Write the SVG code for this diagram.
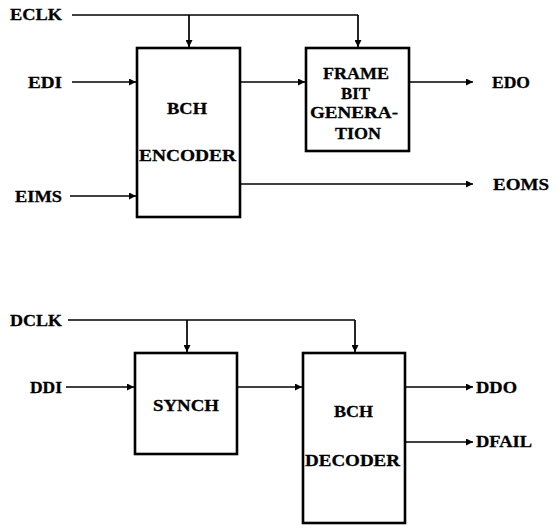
<svg xmlns="http://www.w3.org/2000/svg" width="559" height="530" viewBox="0 0 559 530">
<defs>
<marker id="arr" viewBox="0 0 10 10" refX="10" refY="5" markerWidth="9" markerHeight="7" markerUnits="userSpaceOnUse" orient="auto">
<path d="M0,0 L10,5 L0,10 Z" fill="#000"/>
</marker>
<style>
.box{fill:#fff;stroke:#000;stroke-width:2.6}
.ln{fill:none;stroke:#000;stroke-width:1.7}
.t{font-family:"Liberation Serif","Times New Roman",serif;font-weight:bold;font-size:16.5px;fill:#000;stroke:#000;stroke-width:0.3}
</style>
</defs>
<rect width="559" height="530" fill="#fff"/>
<g id="connectors">
<path class="ln" d="M72,15 H358"/>
<path class="ln" d="M189,15 V47" marker-end="url(#arr)"/>
<path class="ln" d="M358,15 V47" marker-end="url(#arr)"/>
<path class="ln" d="M72,82 H136" marker-end="url(#arr)"/>
<path class="ln" d="M70,196 H136" marker-end="url(#arr)"/>
<path class="ln" d="M240,82 H305" marker-end="url(#arr)"/>
<path class="ln" d="M409,82 H473" marker-end="url(#arr)"/>
<path class="ln" d="M240,184 H473" marker-end="url(#arr)"/>
<path class="ln" d="M68,320 H355"/>
<path class="ln" d="M187,320 V352" marker-end="url(#arr)"/>
<path class="ln" d="M355,320 V352" marker-end="url(#arr)"/>
<path class="ln" d="M66,387 H134" marker-end="url(#arr)"/>
<path class="ln" d="M237,387 H302" marker-end="url(#arr)"/>
<path class="ln" d="M405,387 H473" marker-end="url(#arr)"/>
<path class="ln" d="M405,442 H473" marker-end="url(#arr)"/>
</g>
<g id="labels">
<text class="t" x="10" y="20" textLength="52" lengthAdjust="spacingAndGlyphs">ECLK</text>
<text class="t" x="28" y="88" textLength="34" lengthAdjust="spacingAndGlyphs">EDI</text>
<text class="t" x="15" y="202" textLength="47" lengthAdjust="spacingAndGlyphs">EIMS</text>
<text class="t" x="492" y="88" textLength="38" lengthAdjust="spacingAndGlyphs">EDO</text>
<text class="t" x="493" y="190" textLength="56" lengthAdjust="spacingAndGlyphs">EOMS</text>
<text class="t" x="10" y="326" textLength="52" lengthAdjust="spacingAndGlyphs">DCLK</text>
<text class="t" x="30" y="393" textLength="32" lengthAdjust="spacingAndGlyphs">DDI</text>
<text class="t" x="476" y="393" textLength="41" lengthAdjust="spacingAndGlyphs">DDO</text>
<text class="t" x="476" y="447" textLength="56" lengthAdjust="spacingAndGlyphs">DFAIL</text>
</g>
<g id="encoder">
<rect class="box" x="137" y="48" width="103" height="169"/>
<text class="t" x="167" y="114" textLength="40" lengthAdjust="spacingAndGlyphs">BCH</text>
<text class="t" x="139" y="161" textLength="97" lengthAdjust="spacingAndGlyphs">ENCODER</text>
</g>
<g id="frame">
<rect class="box" x="306" y="48" width="103" height="103"/>
<text class="t" x="323" y="79" textLength="66" lengthAdjust="spacingAndGlyphs">FRAME</text>
<text class="t" x="341" y="99" textLength="29" lengthAdjust="spacingAndGlyphs">BIT</text>
<text class="t" x="310" y="118" textLength="88" lengthAdjust="spacingAndGlyphs">GENERA-</text>
<text class="t" x="335" y="139" textLength="46" lengthAdjust="spacingAndGlyphs">TION</text>
</g>
<g id="synch">
<rect class="box" x="135" y="353" width="102" height="101"/>
<text class="t" x="153" y="411" textLength="66" lengthAdjust="spacingAndGlyphs">SYNCH</text>
</g>
<g id="decoder">
<rect class="box" x="303" y="353" width="102" height="170"/>
<text class="t" x="334" y="417" textLength="39" lengthAdjust="spacingAndGlyphs">BCH</text>
<text class="t" x="305" y="466" textLength="95" lengthAdjust="spacingAndGlyphs">DECODER</text>
</g>
</svg>
